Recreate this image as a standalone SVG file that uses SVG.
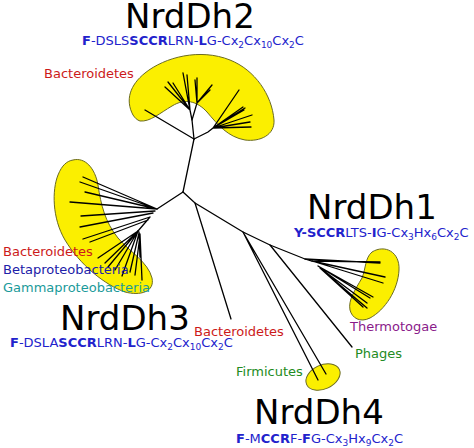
<svg xmlns="http://www.w3.org/2000/svg" width="474" height="448" viewBox="0 0 474 448">
<style>
text{font-family:"DejaVu Sans","Liberation Sans",sans-serif}
.title{font-size:34px;fill:#000}
.sig{font-size:13px;fill:#2222cc}
.b{font-weight:bold}
.sub{font-size:9px}
.lab{font-size:13px}
.blob{fill:#fbef00;stroke:#6b6b20;stroke-width:1}
.tree{fill:none;stroke:#000;stroke-width:1.3;stroke-linecap:round}
</style>
<rect width="474" height="448" fill="#fff"/>

<g id="clusters">
<path id="blob-NrdDh2" class="blob" d="M 133,115 C 125,100 130,85 145,73 C 165,57 200,48 230,60 C 255,70 272,95 274,120 C 275,135 260,142 245,140 C 228,137 218,125 207,112 C 197,101 185,98 172,106 C 160,113 150,122 140,121 C 137,120 135,118 133,115 Z"/>
<path id="blob-NrdDh3" class="blob" d="M 73,160 C 85,157 95,168 98,185 C 101,205 105,222 118,238 C 130,252 148,262 152,278 C 155,292 140,296 125,292 C 105,285 80,265 65,240 C 52,218 52,190 58,175 C 62,165 67,161 73,160 Z"/>
<path id="blob-NrdDh1" class="blob" d="M 372,252 C 385,244 400,252 399,270 C 398,290 385,310 370,318 C 360,323 352,318 350,310 C 348,300 355,290 362,278 C 366,268 365,258 372,252 Z"/>
<ellipse id="blob-NrdDh4" class="blob" cx="323" cy="377" rx="18" ry="12" transform="rotate(-25 323 377)"/>
</g>

<g id="connectors" class="tree">
<path d="M183,192 L194,139"/>
<path d="M194,139 L145,110"/>
<path d="M194,139 L192,120 L190,110 L183,73 M190,110 L187,75 M190,110 L168,82 M190,110 L173,83 M190,110 L165,87"/>
<path d="M192,120 L197,103 L195,80 M197,103 L197,78 M197,103 L212,85 M197,103 L210,90"/>
<path d="M194,139 L208,132 L213,128 L239,90 M213,128 L243,107 M213,128 L245,108 M213,128 L244,110 M213,128 L252,115 M213,128 L250,122 M213,128 L251,127"/>
<path d="M183,192 L157,209"/>
<path d="M157,209 L83,177 M157,209 L80,182 M157,209 L85,192 M157,209 L70,202 M155,211 L81,216 M153,213 L80,227"/>
<path d="M150,217 L138,231 M150,217 L83,239 M148,220 L90,242"/>
<path d="M138,231 L98,258 M138,231 L105,263 M138,231 L108,267 M138,231 L115,270 M138,231 L122,276 M139,233 L130,272 M140,235 L135,275 M139,232 L140,257 M140,234 L142,280"/>
<path d="M183,192 L195,203 L243,232 L270,245 L305,259 L312,261"/>
<path d="M195,203 L231,319"/>
<path d="M243,232 L318,380 M243,232 L326,374"/>
<path d="M270,245 L352,347"/>
<path d="M305,259 L380,263 M312,261 L380,262 M312,261 L385,277 M312,261 L383,283 M318,266 L373,297 M318,266 L370,298 M320,268 L367,303 M320,268 L367,308 M320,268 L363,307"/>
</g>

<g id="node-NrdDh2">
<text class="title" x="125" y="28">NrdDh2</text>
<text class="sig" x="82" y="45"><tspan class="b">F</tspan>-DSLS<tspan class="b">SCCR</tspan>LRN-<tspan class="b">L</tspan>G-Cx<tspan class="sub" dy="3">2</tspan><tspan dy="-3">Cx</tspan><tspan class="sub" dy="3">10</tspan><tspan dy="-3">Cx</tspan><tspan class="sub" dy="3">2</tspan><tspan dy="-3">C</tspan></text>
</g>
<g id="node-NrdDh1">
<text class="title" x="307" y="219">NrdDh1</text>
<text class="sig" x="294" y="237"><tspan class="b">Y-SCCR</tspan>LTS-<tspan class="b">I</tspan>G-Cx<tspan class="sub" dy="3">3</tspan><tspan dy="-3">Hx</tspan><tspan class="sub" dy="3">6</tspan><tspan dy="-3">Cx</tspan><tspan class="sub" dy="3">2</tspan><tspan dy="-3">C</tspan></text>
</g>
<g id="node-NrdDh3">
<text class="title" x="60" y="330">NrdDh3</text>
<text class="sig" x="10" y="347"><tspan class="b">F</tspan>-DSLA<tspan class="b">SCCR</tspan>LRN-<tspan class="b">L</tspan>G-Cx<tspan class="sub" dy="3">2</tspan><tspan dy="-3">Cx</tspan><tspan class="sub" dy="3">10</tspan><tspan dy="-3">Cx</tspan><tspan class="sub" dy="3">2</tspan><tspan dy="-3">C</tspan></text>
</g>
<g id="node-NrdDh4">
<text class="title" x="254" y="424">NrdDh4</text>
<text class="sig" x="236" y="443"><tspan class="b">F</tspan>-M<tspan class="b">CCR</tspan>F-<tspan class="b">F</tspan>G-Cx<tspan class="sub" dy="3">3</tspan><tspan dy="-3">Hx</tspan><tspan class="sub" dy="3">9</tspan><tspan dy="-3">Cx</tspan><tspan class="sub" dy="3">2</tspan><tspan dy="-3">C</tspan></text>
</g>

<g id="labels" class="lab">
<text x="44" y="78" fill="#cc1a1a">Bacteroidetes</text>
<text x="3" y="256" fill="#cc1a1a">Bacteroidetes</text>
<text x="3" y="274" fill="#2020a8">Betaproteobacteria</text>
<text x="3" y="292" fill="#1a9a9a">Gammaproteobacteria</text>
<text x="194" y="336" fill="#cc1a1a">Bacteroidetes</text>
<text x="350" y="331" fill="#8a1a8a">Thermotogae</text>
<text x="355" y="358" fill="#228b22">Phages</text>
<text x="236" y="376" fill="#228b22">Firmicutes</text>
</g>
</svg>
